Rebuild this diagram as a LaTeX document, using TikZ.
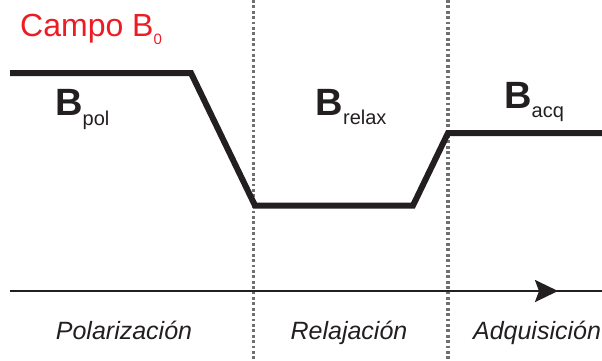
\documentclass[tikz,border=0pt]{standalone}
\usepackage{fontspec}
\setmainfont{Liberation Sans}
\usetikzlibrary{arrows.meta}
\definecolor{ink}{HTML}{231F20}
\definecolor{campored}{HTML}{ED1C24}
\definecolor{dotgray}{HTML}{707070}
\tikzset{
  field/.style={line width=6pt, draw=ink, line join=miter},
  divider/.style={line width=3.2pt, draw=dotgray, dash pattern=on 2.8pt off 2.6pt},
  axisline/.style={line width=2.6pt, draw=ink},
  bigB/.style={anchor=base west, inner sep=0pt, text=ink, font=\fontsize{38}{38}\selectfont\bfseries},
  phase/.style={anchor=base, inner sep=0pt, text=ink, font=\fontsize{25}{25}\selectfont\itshape},
  title/.style={anchor=base west, inner sep=0pt, text=campored, font=\fontsize{32}{32}\selectfont}
}
\newcommand{\subtxt}[1]{\raisebox{-9.5pt}{\fontsize{20}{20}\selectfont\mdseries #1}}
\begin{document}
\begin{tikzpicture}[x=1pt,y=-1pt]
\useasboundingbox (0,0) rectangle (602,360);
% dotted dividers
\coordinate (d1t) at (253.5,0);
\coordinate (d1b) at (253.5,360);
\coordinate (d2t) at (448,0);
\coordinate (d2b) at (448,360);
\draw[divider] (d1t) -- (d1b);
\draw[divider] (d2t) -- (d2b);
% field profile
\coordinate (p0) at (10,73);
\coordinate (p1) at (191,73);
\coordinate (p2) at (255,205.5);
\coordinate (p3) at (413,205.5);
\coordinate (p4) at (448,133);
\coordinate (p5) at (602,133);
\draw[field] (p0) -- (p1) -- (p2) -- (p3) -- (p4) -- (p5);
% time axis
\coordinate (a0) at (10,291);
\coordinate (am) at (558,291);
\coordinate (a1) at (602,291);
\draw[axisline] (a0) -- (a1);
\draw[axisline, -{Stealth[length=23pt, width=22pt, inset=4pt]}] (a0) -- (am);
% labels
\node[title] (campo) at (20,36) {Campo B\raisebox{-8pt}{\fontsize{15}{15}\selectfont 0}};
\node[bigB] (bpol) at (55,115.5) {B\subtxt{pol}};
\node[bigB] (brelax) at (315.5,115) {B\subtxt{relax}};
\node[bigB] (bacq) at (504,108) {B\subtxt{acq}};
\node[phase] (pol) at (124,339) {Polarización};
\node[phase] (rel) at (349,339) {Relajación};
\node[phase] (acq) at (537,339) {Adquisición};
\end{tikzpicture}
\end{document}
